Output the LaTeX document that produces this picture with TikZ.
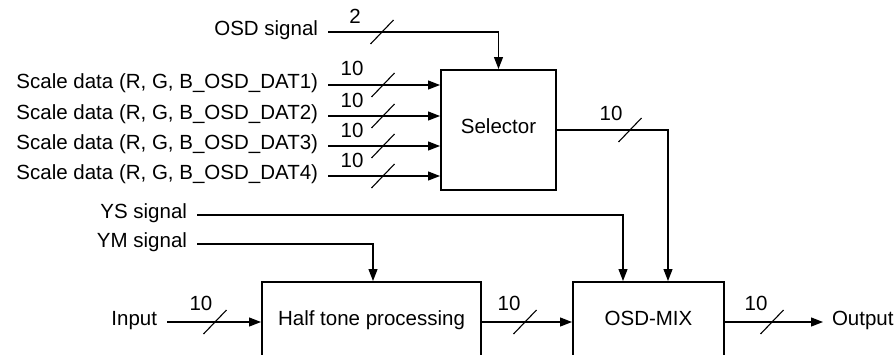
\documentclass[tikz,border=0pt]{standalone}
\usepackage{fontspec}
\setmainfont{Liberation Sans}
\usetikzlibrary{arrows.meta,calc}
\begin{document}
\begin{tikzpicture}[x=1pt,y=-1pt,
  font=\fontsize{20.5}{24}\selectfont,
  lbl/.style={inner sep=0pt,text height=0.716em,text depth=0pt},
  inlbl/.style={lbl,anchor=east,outer xsep=10pt},
  outlbl/.style={lbl,anchor=west,outer xsep=9pt},
  blk/.style={draw,line width=2pt,inner sep=0pt,text height=0.716em,text depth=0pt},
  wire/.style={line width=1.2pt},
  arr/.style={wire,-{Triangle[length=12pt,width=9pt]}},
  busmark/.style={line width=1.1pt},
  buslbl/.style={lbl,anchor=center}
]
\useasboundingbox (0,0) rectangle (896,354);
\clip (0,0) rectangle (896,354);

% blocks
\node[blk,minimum width=115pt,minimum height=120pt] (sel) at (498.5,130) {Selector};
\node[blk,minimum width=219pt,minimum height=80pt] (half) at (371.5,322) {Half tone processing};
\node[blk,minimum width=151pt,minimum height=80pt] (mix) at (648.5,322) {OSD-MIX};

% input labels
\node[inlbl] (osd) at (328,32) {OSD signal};
\node[inlbl] (sd1) at (328,85) {Scale data (R, G, B\_OSD\_DAT1)};
\node[inlbl] (sd2) at (328,116) {Scale data (R, G, B\_OSD\_DAT2)};
\node[inlbl] (sd3) at (328,146) {Scale data (R, G, B\_OSD\_DAT3)};
\node[inlbl] (sd4) at (328,176) {Scale data (R, G, B\_OSD\_DAT4)};
\node[inlbl] (ys) at (197,215) {YS signal};
\node[inlbl] (ym) at (197,244) {YM signal};
\node[inlbl] (in) at (167,322) {Input};
\node[outlbl] (out) at (823,322) {Output};

% connectors
\draw[arr] (osd.east) -| (sel.north);
\draw[arr] (sd1.east) -- (sd1.east -| sel.west);
\draw[arr] (sd2.east) -- (sd2.east -| sel.west);
\draw[arr] (sd3.east) -- (sd3.east -| sel.west);
\draw[arr] (sd4.east) -- (sd4.east -| sel.west);
\draw[arr] (sel.east) -| ($(mix.north)+(19.5,0)$);
\draw[arr] (ys.east) -| ($(mix.north)+(-25.5,0)$);
\draw[arr] (ym.east) -| ($(half.north)+(1.5,0)$);
\draw[arr] (in.east) -- (half.west);
\draw[arr] (half.east) -- (mix.west);
\draw[arr] (mix.east) -- (out.west);

% bus width marks
\foreach \cx/\cy in {382/32,383/85,383/116,383/146,383/176,630/130,215/322,525/322,772/322}
  \draw[busmark] (\cx-11.5,\cy+12) -- (\cx+11.5,\cy-12);

\node[buslbl] (w0) at (355,20) {2};
\node[buslbl] (w1) at (352,72) {10};
\node[buslbl] (w2) at (352,103.5) {10};
\node[buslbl] (w3) at (352,133.5) {10};
\node[buslbl] (w4) at (352,163.5) {10};
\node[buslbl] (w5) at (611,117) {10};
\node[buslbl] (w6) at (201,307) {10};
\node[buslbl] (w7) at (509,307) {10};
\node[buslbl] (w8) at (756,307) {10};
\end{tikzpicture}
\end{document}
